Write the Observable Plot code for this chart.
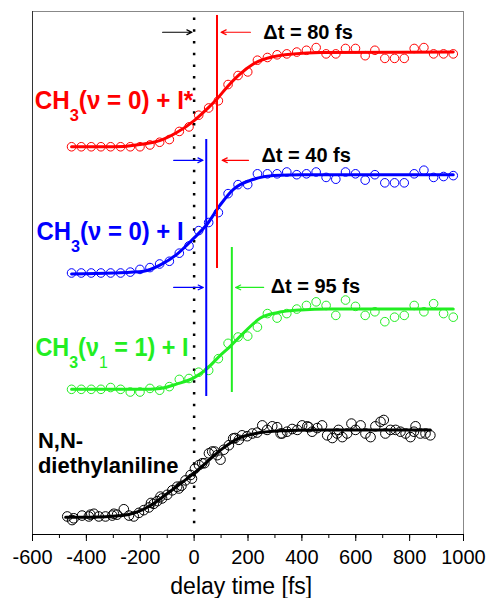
<!DOCTYPE html>
<html><head><meta charset="utf-8">
<script src="https://cdn.jsdelivr.net/npm/d3@7"></script>
<script src="https://cdn.jsdelivr.net/npm/@observablehq/plot@0.6"></script>
<style>body{margin:0;background:#fff}</style>
</head><body><div id="chart"></div>
<script>
// shared delay grid (fs) for the three CH3 channels
const delay = [-455,-419,-382,-346,-310,-273,-237,-201,-164,-128,-92,-55,-19,17,54,90,126,163,199,235,272,308,344,381,417,453,490,526,562,599,635,671,708,744,780,817,853,889,926,962];
const redSignal = [0.01,0.01,0.01,0.01,0.01,0.01,0.01,0.01,0.03,0.06,0.09,0.18,0.23,0.36,0.44,0.52,0.70,0.80,0.84,0.97,1.00,1.03,1.04,1.06,1.08,1.11,1.04,1.04,1.10,1.10,1.02,1.08,0.99,0.99,0.99,1.10,1.11,1.04,1.04,1.04];
const blueSignal = [0.01,0.01,0.01,0.01,0.01,0.01,0.02,0.05,0.07,0.11,0.14,0.23,0.31,0.48,0.57,0.68,0.89,0.99,0.99,1.11,1.11,1.11,1.13,1.10,1.11,1.13,1.07,1.05,1.13,1.11,1.04,1.10,1.01,1.01,1.01,1.11,1.15,1.07,1.08,1.09];
const greenSignal = [0.01,0.01,0.01,0.01,0.03,0.01,-0.02,-0.02,0.02,0.00,0.04,0.12,0.13,0.20,0.22,0.35,0.52,0.59,0.60,0.70,0.85,0.80,0.85,0.90,0.94,0.98,0.94,0.83,1.00,0.93,0.83,0.87,0.76,0.81,0.83,0.94,0.87,0.96,0.85,0.81];
// N,N-diethylaniline
const blackDelay = [-471,-453,-447,-416,-391,-385,-372,-354,-329,-304,-298,-286,-261,-242,-224,-205,-187,-168,-160,-150,-137,-125,-119,-100,-81,-63,-57,-47,-32,-13,-8,3,18,30,38,55,67,76,86,98,110,129,145,152,166,178,197,216,234,253,271,290,308,321,327,345,364,383,401,420,426,438,457,475,494,513,531,536,550,568,584,599,618,636,655,673,692,704,710,729,748,766,785,803,816,822,840,859,877];
const blackSignal = [0.02,-0.02,0.00,0.03,0.02,0.04,0.05,0.02,0.02,0.03,0.05,0.04,0.10,0.03,0.02,0.06,0.09,0.12,0.17,0.16,0.19,0.24,0.22,0.26,0.31,0.35,0.33,0.36,0.42,0.48,0.44,0.55,0.59,0.61,0.61,0.72,0.74,0.74,0.70,0.65,0.76,0.81,0.885,0.89,0.87,0.92,0.91,0.94,0.95,1.03,0.98,1.02,1.01,0.94,0.94,0.96,0.99,0.98,1.03,1.02,1.01,0.96,1.00,1.03,0.92,0.89,0.94,0.98,0.90,0.94,1.05,0.98,1.03,0.94,0.90,1.02,1.07,1.09,0.94,0.98,0.98,0.96,0.94,0.90,0.96,1.02,0.94,0.94,0.92];
// fitted curves, read at sample delays
const redFitX = [-455,-300,-187,-125,-63,0,48,85,122,172,221,296,370,470,962];
const redFitY = [0.01,0.01,0.04,0.08,0.17,0.30,0.43,0.54,0.67,0.82,0.93,1.01,1.04,1.055,1.06];
const blueFitX = [-455,-300,-187,-125,-63,0,48,98,147,222,296,400,962];
const blueFitY = [0.00,0.01,0.03,0.10,0.22,0.40,0.55,0.77,0.94,1.05,1.09,1.10,1.10];
const greenFitX = [-455,-200,-125,-63,0,48,98,135,185,246,308,395,500,962];
const greenFitY = [0.01,0.01,0.02,0.07,0.14,0.24,0.39,0.49,0.64,0.80,0.86,0.89,0.90,0.90];
const blackFitX = [-477,-391,-267,-168,-106,-44,0,42,104,166,228,327,450,877];
const blackFitY = [0.01,0.01,0.03,0.13,0.26,0.40,0.50,0.61,0.77,0.89,0.94,0.97,0.98,0.98];
// vertical offsets of the stacked traces
const traceNames = ["red","blue","green","black"];
const traceColors = ["#ff0000","#0000ff","#22ee22","#000000"];
const traceOffsets = [4.29, 2.89, 1.60, 0.18];
const traceLabels = ["CH3(ν = 0) + I*","CH3(ν = 0) + I","CH3(ν1 = 1) + I"];
const traceLabelX = [-592,-585,-589];
const traceLabelY = [4.81,3.35,2.07];
const traceLabelWidth = [159,147,153];
const blackLabels = ["N,N-","diethylaniline"];
const blackLabelY = [1.04,0.76];
const blackLabelX = -580;
// time-marker lines
const markerX = [85, 45, 140];
const markerY1 = [2.95, 1.53, 1.575];
const markerY2 = [5.756, 4.38, 3.183];
const markerColors = ["#ff0000","#0000ff","#22ee22"];
const zeroLine = [{x: 0, y1: 0.12, y2: 5.75}];
// Δt annotations
const arrowX1 = [-117, 209, -76, 202, -76, 258];
const arrowX2 = [-8, 100, 33, 104, 34, 154];
const arrowY = [5.57, 5.57, 4.15, 4.15, 2.74, 2.74];
const arrowColors = ["#000000","#ff0000","#0000ff","#ff0000","#0000ff","#22ee22"];
const dtLabels = ["Δt = 80 fs","Δt = 40 fs","Δt = 95 fs"];
const dtX = [257, 250, 284];
const dtY = [5.57, 4.20, 2.75];
const majorTicks = [-600,-400,-200,0,200,400,600,800,1000];
const minorTicks = [-600,-500,-400,-300,-200,-100,0,100,200,300,400,500,600,700,800,900,1000];

const signals = [redSignal, blueSignal, greenSignal];
const points = [];
signals.forEach((s, k) => s.forEach((v, i) => points.push({x: delay[i], y: v + traceOffsets[k], c: traceColors[k]})));
const blackPoints = blackSignal.map((v, i) => ({x: blackDelay[i], y: v + traceOffsets[3]}));
const fits = [];
[[redFitX, redFitY],[blueFitX, blueFitY],[greenFitX, greenFitY],[blackFitX, blackFitY]].forEach(([xs, ys], k) =>
  xs.forEach((x, i) => fits.push({x, y: ys[i] + traceOffsets[k], c: traceColors[k], k: traceNames[k]})));
const markers = markerX.map((x, i) => ({x, y1: markerY1[i], y2: markerY2[i], c: markerColors[i]}));
const arrows = arrowX1.map((x1, i) => ({x1, x2: arrowX2[i], y: arrowY[i], c: arrowColors[i]}));
const dts = dtLabels.map((t, i) => ({t, x: dtX[i], y: dtY[i]}));
const labels = traceLabels.map((t, i) => ({t, x: traceLabelX[i], y: traceLabelY[i], c: traceColors[i]}));
const blacks = blackLabels.map((t, i) => ({t, x: blackLabelX, y: blackLabelY[i]}));

const font = "'Liberation Sans', Arial, Helvetica, sans-serif";
const chart = Plot.plot({
  width: 490, height: 598,
  marginLeft: 32, marginRight: 27, marginTop: 11, marginBottom: 64,
  x: {domain: [-600, 1000]},
  y: {domain: [0, 5.8], axis: null},
  color: {type: "identity"},
  style: {fontFamily: font, background: "#fff", color: "#000"},
  marks: [
    Plot.frame({stroke: "#888"}),
    Plot.ruleX([-600], {stroke: "#333"}),
    Plot.ruleY([0], {stroke: "#000"}),
    Plot.axisX({ticks: minorTicks, tickSize: 4, tickFormat: () => "", label: null}),
    Plot.axisX({ticks: majorTicks, tickSize: 7, tickPadding: 8, tickFormat: d => String(d), fontSize: 20, label: null}),
    Plot.text(["delay time [fs]"], {x: 175, frameAnchor: "bottom", lineAnchor: "middle", dy: 52, text: d => d, fontSize: 23}),
    Plot.ruleX(zeroLine, {x: "x", y1: "y1", y2: "y2", stroke: "#000", strokeWidth: 2.5, strokeDasharray: "2.5 9.2"}),
    Plot.dot(points, {x: "x", y: "y", r: 4.3, stroke: "c", fill: "none", strokeWidth: 1}),
    Plot.dot(blackPoints, {x: "x", y: "y", r: 4.8, stroke: "#000", fill: "none", strokeWidth: 1}),
    Plot.line(fits, {x: "x", y: "y", z: "k", stroke: "c", strokeWidth: 3, curve: "monotone-x"}),
    Plot.ruleX(markers, {x: "x", y1: "y1", y2: "y2", stroke: "c", strokeWidth: 2}),
    Plot.arrow(arrows, {x1: "x1", x2: "x2", y1: "y", y2: "y", stroke: "c", strokeWidth: 1.2, headLength: 7, headAngle: 50}),
    Plot.text(dts, {x: "x", y: "y", text: "t", textAnchor: "start", fontSize: 20, fontWeight: "bold", fill: "#000"}),
    Plot.text(labels, {x: "x", y: "y", text: "t", textAnchor: "start", fontSize: 25, fontWeight: "bold", fill: "c"}),
    Plot.text(blacks, {x: "x", y: "y", text: "t", textAnchor: "start", fontSize: 22, fontWeight: "bold", fill: "#000"})
  ]
});
document.getElementById("chart").appendChild(chart);

// subscripts: digit after "CH" and after "ν" in the channel labels; then condense to the reference width
d3.select(chart).selectAll("text").each(function() {
  const t = this.textContent;
  const li = traceLabels.indexOf(t);
  if (li < 0) return;
  const parts = [];
  let buf = "";
  for (let i = 0; i < t.length; i++) {
    const ch = t[i];
    const prev = t[i - 1];
    if (/\d/.test(ch) && (prev === "H" || prev === "ν")) {
      parts.push([buf, false]); buf = "";
      parts.push([ch, true, prev === "ν"]);
    } else buf += ch;
  }
  parts.push([buf, false]);
  const el = d3.select(this);
  el.text(null);
  let shifted = false;
  parts.forEach(([s, sub, thin]) => {
    if (!s) return;
    const ts = el.append("tspan").text(s);
    if (sub) {
      ts.attr("dy", 12).attr("font-size", 17);
      if (thin) ts.attr("font-weight", "normal");
      shifted = true;
    } else if (shifted) {
      ts.attr("dy", -12);
      shifted = false;
    }
  });
  // wrap in a group and squeeze horizontally around the left edge
  const parent = this.parentNode;
  const g = document.createElementNS("http://www.w3.org/2000/svg", "g");
  parent.insertBefore(g, this);
  g.appendChild(this);
  const bb = g.getBBox();
  const sx = traceLabelWidth[li] / bb.width;
  g.setAttribute("transform", `translate(${bb.x},0) scale(${sx},1) translate(${-bb.x},0)`);
});
</script></body></html>
